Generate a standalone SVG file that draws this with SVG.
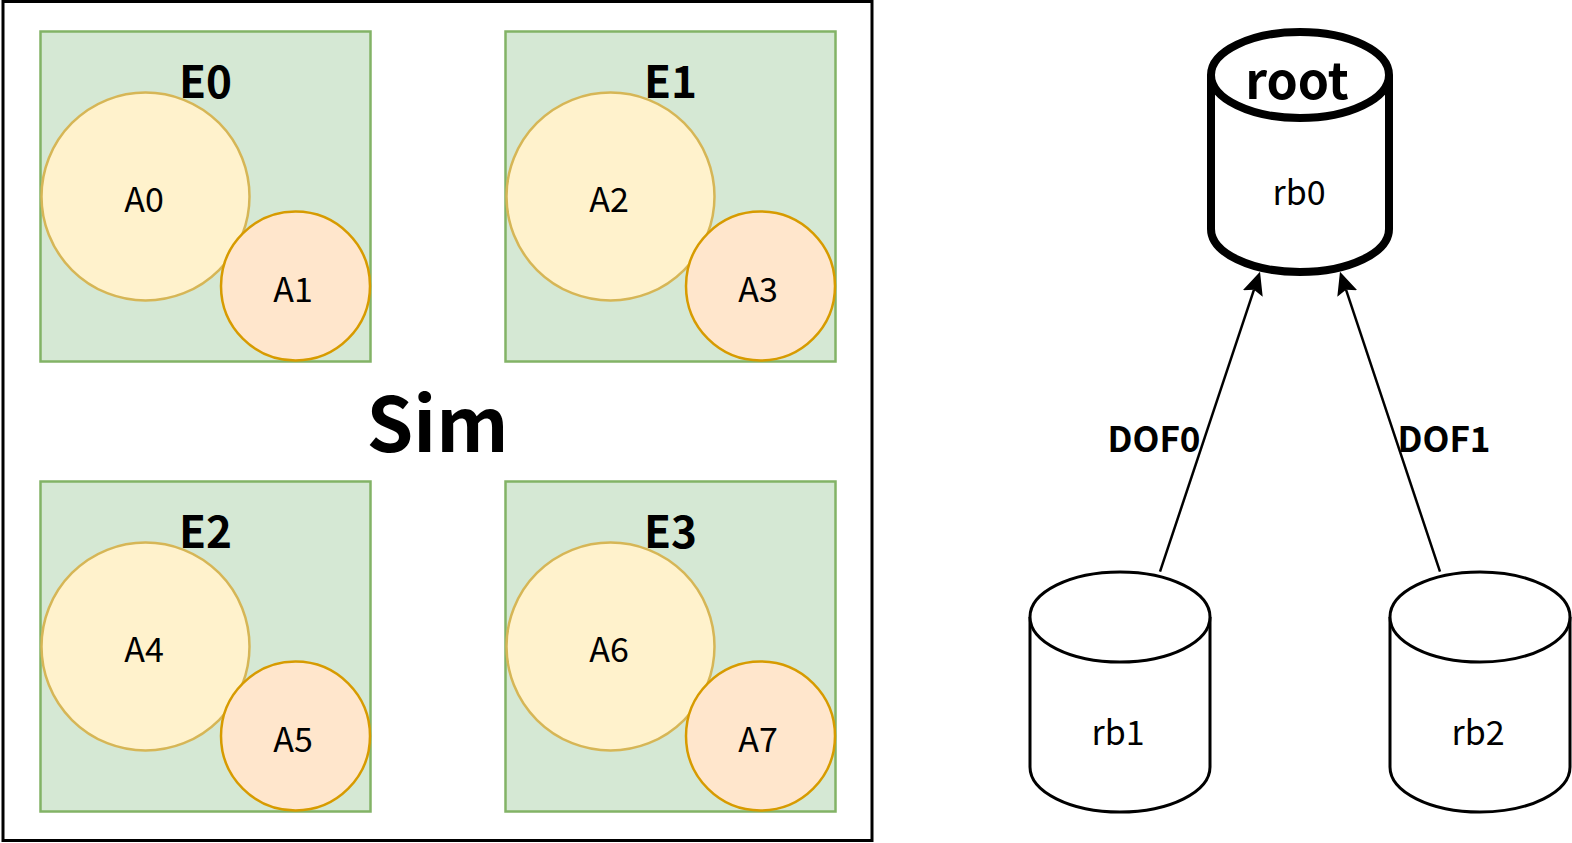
<svg xmlns="http://www.w3.org/2000/svg" width="1572" height="843" viewBox="0 0 1572 843">
<defs>
<style>
text{font-family:"Noto Sans CJK SC","Noto Sans",sans-serif;fill:#000;text-anchor:middle}
.env{fill:#d5e8d4;stroke:#82b366;stroke-width:2.5}
.big{fill:#fff2cc;stroke:#d6b656;stroke-width:2.5}
.small{fill:#ffe6cc;stroke:#d79b00;stroke-width:2.5}
.lbl{font-size:34px}
.elbl{font-size:44px;font-weight:bold}
.cyl{fill:#fff;stroke:#000;stroke-width:3}
.edge{stroke:#000;stroke-width:2.5;fill:none}
.dof{font-size:35px;font-weight:bold}
</style>
<marker id="arr" viewBox="0 -12 24 24" refX="4" refY="0" markerWidth="24" markerHeight="24" markerUnits="userSpaceOnUse" orient="auto">
<path d="M23,0 L0,-10.5 L4,0 L0,10.5 Z" fill="#000"/>
</marker>
</defs>
<g id="sim">
<rect x="3" y="1.5" width="869" height="839" fill="#fff" stroke="#000" stroke-width="3"/>
<text x="437.5" y="452" style="font-size:75px;font-weight:bold">Sim</text>
</g>
<g id="E0">
<rect class="env" x="40.5" y="31.5" width="330" height="330"/>
<text class="elbl" x="205.5" y="97.5">E0</text>
</g>
<g id="A0"><circle class="big" cx="145.5" cy="196.5" r="104"/><text class="lbl" x="144" y="212">A0</text></g>
<g id="A1"><circle class="small" cx="295.5" cy="286" r="74.5"/><text class="lbl" x="293" y="302">A1</text></g>
<g id="E1">
<rect class="env" x="505.5" y="31.5" width="330" height="330"/>
<text class="elbl" x="670.5" y="97.5">E1</text>
</g>
<g id="A2"><circle class="big" cx="610.5" cy="196.5" r="104"/><text class="lbl" x="609" y="212">A2</text></g>
<g id="A3"><circle class="small" cx="760.5" cy="286" r="74.5"/><text class="lbl" x="758" y="302">A3</text></g>
<g id="E2">
<rect class="env" x="40.5" y="481.5" width="330" height="330"/>
<text class="elbl" x="205.5" y="547.5">E2</text>
</g>
<g id="A4"><circle class="big" cx="145.5" cy="646.5" r="104"/><text class="lbl" x="144" y="662">A4</text></g>
<g id="A5"><circle class="small" cx="295.5" cy="736" r="74.5"/><text class="lbl" x="293" y="752">A5</text></g>
<g id="E3">
<rect class="env" x="505.5" y="481.5" width="330" height="330"/>
<text class="elbl" x="670.5" y="547.5">E3</text>
</g>
<g id="A6"><circle class="big" cx="610.5" cy="646.5" r="104"/><text class="lbl" x="609" y="662">A6</text></g>
<g id="A7"><circle class="small" cx="760.5" cy="736" r="74.5"/><text class="lbl" x="758" y="752">A7</text></g>
<g id="rb0">
<path d="M1211,75 L1211,229 A89,43 0 0 0 1389,229 L1389,75" fill="#fff" stroke="#000" stroke-width="8"/>
<ellipse cx="1300" cy="75" rx="89" ry="43" fill="#fff" stroke="#000" stroke-width="8"/>
<text x="1297" y="99" style="font-size:50px;font-weight:bold">root</text>
<text class="lbl" x="1299" y="205">rb0</text>
</g>
<g id="rb1">
<path class="cyl" d="M1030,617 L1030,767 A90,45 0 0 0 1210,767 L1210,617"/>
<ellipse class="cyl" cx="1120" cy="617" rx="90" ry="45"/>
<text class="lbl" x="1118" y="745">rb1</text>
</g>
<g id="rb2">
<path class="cyl" d="M1390,617 L1390,767 A90,45 0 0 0 1570,767 L1570,617"/>
<ellipse class="cyl" cx="1480" cy="617" rx="90" ry="45"/>
<text class="lbl" x="1478" y="745">rb2</text>
</g>
<g id="connectors">
<line class="edge" x1="1160" y1="571.7" x2="1254" y2="289.7" marker-end="url(#arr)"/>
<line class="edge" x1="1440" y1="571.7" x2="1346" y2="289.7" marker-end="url(#arr)"/>
<text class="dof" x="1154" y="451.7">DOF0</text>
<text class="dof" x="1444" y="451.7">DOF1</text>
</g>
</svg>
